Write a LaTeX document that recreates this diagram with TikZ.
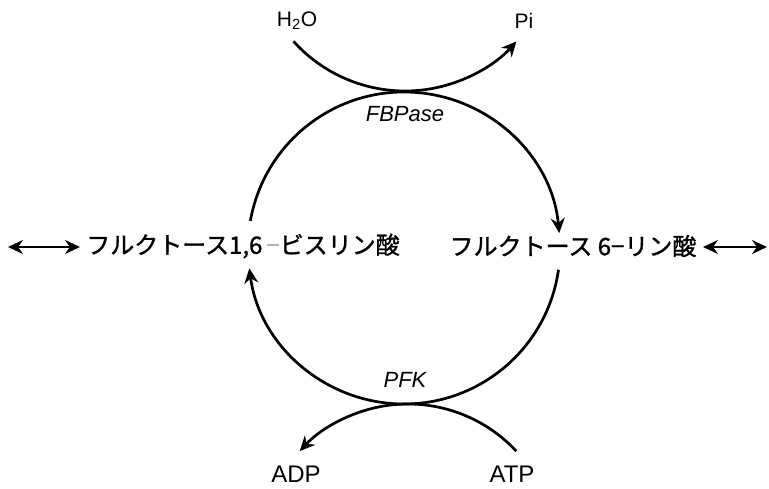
\documentclass[tikz,border=0pt]{standalone}
\usepackage{fontspec}
\setmainfont{Liberation Sans}
\newfontfamily\jpfont[FakeBold=1.2]{Noto Sans CJK JP}
\usetikzlibrary{arrows.meta,calc}
\begin{document}
\begin{tikzpicture}[x=1pt,y=1pt,
  flow/.style={line width=2.7pt},
  tip/.tip={Stealth[length=15pt,width=14pt,inset=5pt]},
  tipped/.style={flow,-tip},
  both/.style={flow,tip-tip},
  chem/.style={font=\fontsize{21}{24}\selectfont},
  cofactor/.style={font=\fontsize{24}{27}\selectfont, inner sep=0pt, anchor=base},
  enzyme/.style={font=\fontsize{22}{26}\selectfont\itshape},
  sugar/.style={font=\fontsize{24}{28}\selectfont\jpfont, inner sep=0pt}]
\useasboundingbox (0,0) rectangle (769,488);

% centres of the cycle and of the two side reactions
\coordinate (c) at (404,240);
\coordinate (t) at (405,547);
\coordinate (b) at (408,-64);

% metabolites
\node[sugar] (fbp) at (243,242) {フルクトース1,6\,{\color{gray!60}−}ビスリン酸};
\node[sugar] (f6p) at (573,242) {フルクトース 6−リン酸};
\coordinate (fbpL) at (8,241);
\coordinate (fbpR) at (80,241);
\coordinate (f6pL) at (703,241);
\coordinate (f6pR) at (767,241);
\draw[both] (fbpL) -- (fbpR);
\draw[both] (f6pL) -- (f6pR);

% enzymes
\node[enzyme] (fbpase) at (405,374) {FBPase};
\node[enzyme] (pfk) at (405,108) {PFK};

% co-substrates
\node[chem] (h2o) at (297,467) {H\textsubscript{2}O};
\node[chem] (pi) at (524,467) {Pi};
\node[cofactor] (adp) at (296,6) {ADP};
\node[cofactor] (atp) at (512,6) {ATP};

% the cycle, clockwise
\draw[tipped] ($(c)+(90:156)$) arc[start angle=90, end angle=5.5, radius=156];
\draw[flow] ($(c)+(-8:156)$) arc[start angle=-8, end angle=-90, radius=156];
\draw[tipped] ($(c)+(270:156)$) arc[start angle=270, end angle=187.5, radius=156];
\draw[flow] ($(c)+(170:156)$) arc[start angle=170, end angle=90, radius=156];

% H2O -> Pi and ATP -> ADP
\draw[tipped] ($(t)+(-138:150)$) arc[start angle=-138, end angle=-42, radius=150];
\draw[tipped] ($(b)+(43:148)$) arc[start angle=43, end angle=137, radius=148];
\end{tikzpicture}
\end{document}
